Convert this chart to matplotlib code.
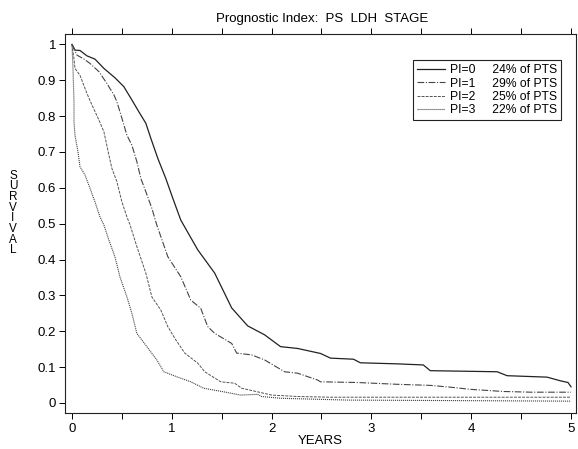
import numpy as np
import matplotlib
matplotlib.use("Agg")
import matplotlib.pyplot as plt
from matplotlib.ticker import MultipleLocator

plt.rcParams['font.family'] = ['Liberation Sans', 'DejaVu Sans']

# survival curves (years, survival)
pi0_x = [0.0, 0.03, 0.08, 0.15, 0.23, 0.32, 0.43, 0.52, 0.60, 0.67, 0.74, 0.79, 0.86,
         0.94, 1.01, 1.09, 1.26, 1.43, 1.60, 1.76, 1.93, 2.09, 2.26, 2.49, 2.59, 2.82,
         2.89, 3.26, 3.52, 3.59, 4.26, 4.36, 4.76, 4.89, 4.97, 5.0]
pi0_y = [1.0, 0.984, 0.983, 0.968, 0.959, 0.933, 0.907, 0.882, 0.845, 0.812, 0.78, 0.738,
         0.682, 0.626, 0.571, 0.51, 0.427, 0.362, 0.265, 0.215, 0.19, 0.157, 0.152, 0.138,
         0.125, 0.122, 0.112, 0.109, 0.106, 0.09, 0.087, 0.076, 0.072, 0.062, 0.057, 0.045]

pi1_x = [0.0, 0.05, 0.12, 0.18, 0.27, 0.35, 0.42, 0.45, 0.50, 0.55, 0.60, 0.65, 0.69,
         0.74, 0.80, 0.85, 0.96, 1.09, 1.19, 1.29, 1.36, 1.43, 1.60, 1.65, 1.80, 1.93,
         2.13, 2.26, 2.46, 2.49, 2.86, 3.26, 3.59, 3.79, 3.99, 4.32, 4.6, 5.0]
pi1_y = [1.0, 0.97, 0.959, 0.947, 0.924, 0.891, 0.859, 0.84, 0.794, 0.747, 0.719, 0.673,
         0.626, 0.589, 0.543, 0.496, 0.408, 0.352, 0.287, 0.264, 0.213, 0.194, 0.166, 0.139,
         0.134, 0.12, 0.087, 0.083, 0.064, 0.059, 0.057, 0.052, 0.049, 0.044, 0.038, 0.032,
         0.03, 0.03]

pi2_x = [0.0, 0.02, 0.03, 0.08, 0.15, 0.20, 0.27, 0.32, 0.37, 0.40, 0.45, 0.50, 0.55,
         0.58, 0.65, 0.74, 0.80, 0.89, 0.96, 1.04, 1.13, 1.26, 1.33, 1.49, 1.63, 1.70,
         1.86, 2.00, 2.26, 2.59, 3.5, 5.0]
pi2_y = [1.0, 0.96, 0.933, 0.914, 0.863, 0.831, 0.789, 0.756, 0.691, 0.654, 0.617, 0.561,
         0.519, 0.498, 0.436, 0.362, 0.296, 0.259, 0.213, 0.176, 0.139, 0.111, 0.087, 0.059,
         0.055, 0.041, 0.031, 0.022, 0.018, 0.016, 0.016, 0.016]

pi3_x = [0.0, 0.01, 0.02, 0.02, 0.03, 0.06, 0.08, 0.13, 0.18, 0.23, 0.28, 0.32, 0.37,
         0.43, 0.48, 0.55, 0.60, 0.65, 0.75, 0.85, 0.92, 1.05, 1.19, 1.32, 1.52, 1.69,
         1.86, 1.90, 2.09, 2.76, 5.0]
pi3_y = [1.0, 0.933, 0.84, 0.784, 0.747, 0.70, 0.659, 0.636, 0.599, 0.561, 0.519, 0.496,
         0.454, 0.408, 0.352, 0.296, 0.25, 0.194, 0.157, 0.12, 0.087, 0.073, 0.059, 0.041,
         0.031, 0.022, 0.024, 0.018, 0.013, 0.008, 0.005]

groups = ["PI=0", "PI=1", "PI=2", "PI=3"]
pct = [24, 29, 25, 22]

fig = plt.figure(figsize=(5.78, 4.49), dpi=100)
ax = fig.add_axes([0.1116, 0.0802, 0.8858, 0.8441])

styles = [
    dict(color='#222222', linestyle='-', lw=0.9),
    dict(color='#444444', linestyle=(0, (6, 1.5, 1, 1.5)), lw=0.8),
    dict(color='#555555', linestyle=(0, (3, 1.2)), lw=0.7),
    dict(color='#444444', linestyle=(0, (1, 0.8)), lw=0.8),
]
curves = [(pi0_x, pi0_y), (pi1_x, pi1_y), (pi2_x, pi2_y), (pi3_x, pi3_y)]
for (xs, ys), g, p, st in zip(curves, groups, pct, styles):
    ax.plot(xs, ys, label=f"{g}     {p}% of PTS", **st)

ax.set_xlim(-0.075, 5.055)
ax.set_ylim(-0.028, 1.029)
ax.xaxis.set_major_locator(MultipleLocator(1))
ax.xaxis.set_minor_locator(MultipleLocator(0.5))
ax.set_yticks(np.arange(0, 1.01, 0.1))
ax.set_yticklabels(["0", "0.1", "0.2", "0.3", "0.4", "0.5", "0.6", "0.7", "0.8", "0.9", "1"])

ax.tick_params(axis='x', which='both', direction='out', top=True, bottom=True,
               labelsize=9.5, length=4, width=0.7, pad=3)
ax.tick_params(axis='y', direction='out', left=True, right=False,
               labelsize=9.5, length=4, width=0.7, pad=2)
for s in ax.spines.values():
    s.set_linewidth(0.8)
    s.set_color('#222222')

ax.set_xlabel("YEARS", fontsize=9.5, labelpad=0)
fig.text(13 / 578, 1 - 213 / 449, "\n".join("SURVIVAL"), fontsize=8.5,
         ha='center', va='center', linespacing=0.85)
fig.text(322 / 578, 1 - 19 / 449, "Prognostic Index:  PS  LDH  STAGE",
         fontsize=9.5, ha='center', va='center')

leg = ax.legend(loc='upper left', bbox_to_anchor=(0.681, 0.931), borderaxespad=0,
                fontsize=8.7, handlelength=2.3, handletextpad=0.4, labelspacing=0.1,
                borderpad=0.35, fancybox=False, framealpha=1, edgecolor='#222222')
leg.get_frame().set_linewidth(0.8)

fig.savefig("out.png", dpi=100)
